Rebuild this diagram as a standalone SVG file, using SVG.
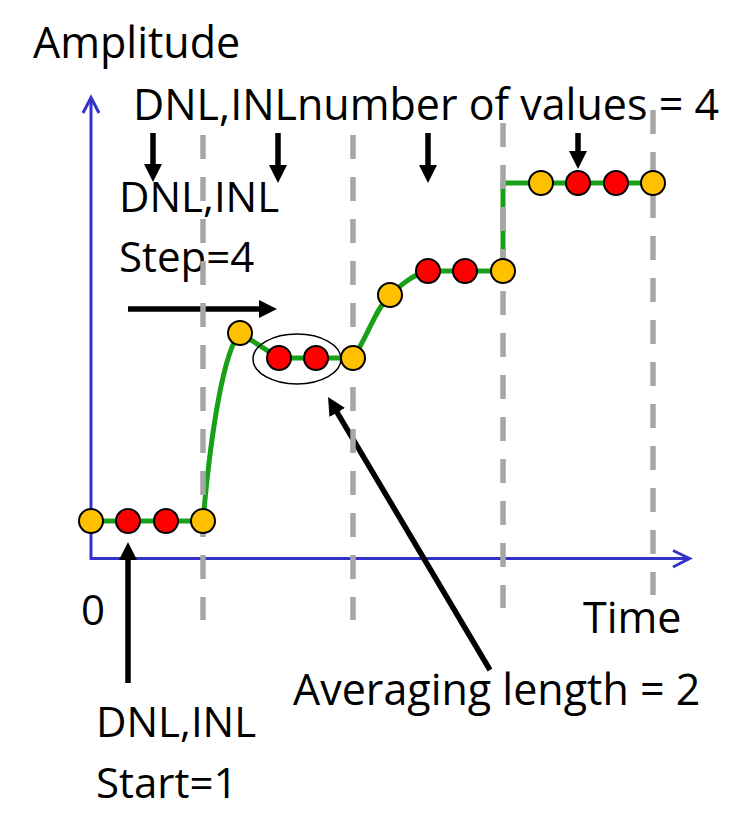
<svg xmlns="http://www.w3.org/2000/svg" width="749" height="821" viewBox="0 0 749 821">
<style>
text{font-family:"Open Sans","Liberation Sans",sans-serif;font-size:42px;fill:#000}
.big{font-size:43px}
.axis{stroke:#3333CC;stroke-width:3;fill:none}
.grid{stroke:#A6A6A6;stroke-width:5.5;stroke-dasharray:24 18;fill:none}
.curve{stroke:#19A019;stroke-width:5;fill:none}
.arr{stroke:#000;stroke-width:5.5;fill:none;marker-end:url(#ah)}
.o{fill:#FFC000;stroke:#000;stroke-width:2}
.r{fill:#FF0000;stroke:#000;stroke-width:2}
</style>
<defs>
<marker id="ah" markerUnits="userSpaceOnUse" markerWidth="18" markerHeight="18" viewBox="0 0 18 18" refX="2" refY="9" orient="auto">
<path d="M0,0 L18,9 L0,18 z" fill="#000"/>
</marker>
</defs>
<rect width="749" height="821" fill="#fff"/>
<g id="axes">
<path class="axis" d="M91,98 L91,558.5 L689,558.5"/>
<path class="axis" d="M83,113 L91,97.5 L99,113"/>
<path class="axis" d="M673,550.5 L689.5,558.5 L673,567"/>
</g>
<g id="curve">
<path class="curve" d="M91,521 L203,521 C211,430 224,350 240,333 L279,358 L353,358 C366,340 376,308 390,295 C402,284 414,274 428,271 L503,271 L503,183 L653,183"/>
</g>
<g id="labels">
<g id="label-amplitude"><text class="big" x="33" y="58">Amplitude</text></g>
<g id="label-top"><text class="big" x="133" y="120">DNL,INLnumber of values = 4</text></g>
<g id="label-step"><text x="119" y="212">DNL,INL</text><text x="119" y="272">Step=4</text></g>
<g id="label-zero"><text x="81" y="625">0</text></g>
<g id="label-time"><text class="big" x="583" y="633">Time</text></g>
<g id="label-averaging"><text class="big" x="293" y="705">Averaging length = 2</text></g>
<g id="label-start"><text x="96" y="737">DNL,INL</text><text x="96" y="798">Start=1</text></g>
</g>
<g id="connectors">
<path class="arr" d="M153,133 L153,166"/>
<path class="arr" d="M278,133 L278,167"/>
<path class="arr" d="M428,133 L428,167"/>
<path class="arr" d="M578,133 L578,153"/>
<path class="arr" d="M128,309 L261,309"/>
<path class="arr" d="M128,683 L128,558"/>
<path class="arr" d="M490,670 L336.2,410.8"/>
</g>
<g id="gridlines">
<path class="grid" d="M203,135 L203,620"/>
<path class="grid" d="M353,135 L353,620"/>
<path class="grid" d="M503,123 L503,608"/>
<path class="grid" d="M653,110 L653,595"/>
</g>
<g id="points">
<ellipse cx="297" cy="359" rx="44" ry="25" fill="none" stroke="#000" stroke-width="1.5"/>
<g id="p1"><circle class="o" cx="91" cy="521" r="12"/><circle class="r" cx="128" cy="521" r="12"/><circle class="r" cx="166" cy="521" r="12"/><circle class="o" cx="203" cy="521" r="12"/></g>
<g id="p2"><circle class="o" cx="240" cy="333" r="12"/><circle class="r" cx="279" cy="358" r="12"/><circle class="r" cx="316" cy="358" r="12"/><circle class="o" cx="353" cy="358" r="12"/></g>
<g id="p3"><circle class="o" cx="390" cy="295" r="12"/><circle class="r" cx="428" cy="271" r="12"/><circle class="r" cx="465" cy="271" r="12"/><circle class="o" cx="503" cy="271" r="12"/></g>
<g id="p4"><circle class="o" cx="541" cy="183" r="12"/><circle class="r" cx="578" cy="183" r="12"/><circle class="r" cx="616" cy="183" r="12"/><circle class="o" cx="653" cy="183" r="12"/></g>
</g>
</svg>
